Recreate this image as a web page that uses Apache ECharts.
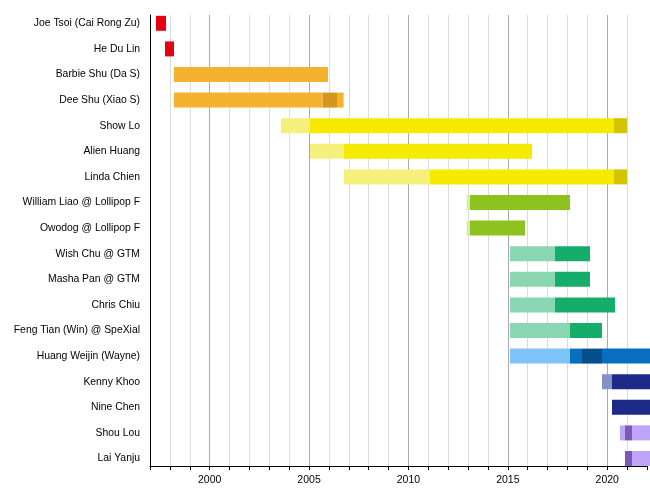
<!DOCTYPE html>
<html>
<head>
<meta charset="UTF-8">
<title>Timeline</title>
<script src="https://cdn.jsdelivr.net/npm/echarts@6/dist/echarts.min.js"></script>
</head>
<body style="margin:0;background:#fff;">
<div id="main" style="width:650px;height:500px;"></div>
<script type="text/javascript">
// members, top to bottom
var members = [
  'Joe Tsoi (Cai Rong Zu)', 'He Du Lin', 'Barbie Shu (Da S)', 'Dee Shu (Xiao S)',
  'Show Lo', 'Alien Huang', 'Linda Chien', 'William Liao @ Lollipop F',
  'Owodog @ Lollipop F', 'Wish Chu @ GTM', 'Masha Pan @ GTM', 'Chris Chiu',
  'Feng Tian (Win) @ SpeXial', 'Huang Weijin (Wayne)', 'Kenny Khoo', 'Nine Chen',
  'Shou Lou', 'Lai Yanju'
];

// [member index, start year, end year, role]
var segments = [
  [0, 1997.3, 1997.8, 'red'],
  [1, 1997.75, 1998.2, 'red'],
  [2, 1998.2, 2005.9, 'orange'],
  [3, 1998.2, 2005.63, 'orange'],
  [3, 2005.63, 2006.35, 'darkorange'],
  [3, 2006.35, 2006.68, 'orange'],
  [4, 2003.55, 2005.0, 'lightyellow'],
  [4, 2005.0, 2020.2, 'yellow'],
  [4, 2020.2, 2020.85, 'olive'],
  [5, 2005.0, 2006.7, 'lightyellow'],
  [5, 2006.7, 2016.1, 'yellow'],
  [6, 2006.7, 2011.0, 'lightyellow'],
  [6, 2011.0, 2020.2, 'yellow'],
  [6, 2020.2, 2020.85, 'olive'],
  [7, 2012.83, 2013.0, 'lightgreen'],
  [7, 2013.0, 2018.0, 'green'],
  [8, 2012.83, 2013.0, 'lightgreen'],
  [8, 2013.0, 2015.75, 'green'],
  [9, 2015.0, 2017.25, 'lightteal'],
  [9, 2017.25, 2019.0, 'teal'],
  [10, 2015.0, 2017.25, 'lightteal'],
  [10, 2017.25, 2019.0, 'teal'],
  [11, 2015.0, 2017.25, 'lightteal'],
  [11, 2017.25, 2020.25, 'teal'],
  [12, 2015.0, 2018.0, 'lightteal'],
  [12, 2018.0, 2019.6, 'teal'],
  [13, 2015.0, 2018.0, 'lightblue'],
  [13, 2018.0, 2018.6, 'blue'],
  [13, 2018.6, 2019.6, 'darkblue'],
  [13, 2019.6, 2022.0, 'blue'],
  [14, 2019.6, 2020.1, 'greyblue'],
  [14, 2020.1, 2022.0, 'navy'],
  [15, 2020.1, 2022.0, 'navy'],
  [16, 2020.5, 2020.75, 'lightpurple'],
  [16, 2020.75, 2021.1, 'darkpurple'],
  [16, 2021.1, 2022.0, 'lightpurple'],
  [17, 2020.75, 2021.1, 'darkpurple'],
  [17, 2021.1, 2022.0, 'lightpurple']
];

var yearMin = 1997;
var yearMax = 2022;

var roleColors = {
  red: '#e60012',
  orange: '#f5b22e',
  darkorange: '#d4961f',
  lightyellow: '#f5f07c',
  yellow: '#f5ea00',
  olive: '#d2c400',
  lightgreen: '#d6ebae',
  green: '#8ec31f',
  lightteal: '#8ad5b2',
  teal: '#14ae6a',
  lightblue: '#7dc4fa',
  blue: '#0a6ebe',
  darkblue: '#05508c',
  greyblue: '#8791c8',
  navy: '#1e2a87',
  lightpurple: '#bea5fa',
  darkpurple: '#7a5ab4'
};

var myChart = echarts.init(document.getElementById('main'));

function renderItem(params, api) {
  var seg = segments[params.dataIndex];
  var start = api.coord([api.value(1), api.value(0)]);
  var end = api.coord([api.value(2), api.value(0)]);
  var h = 15;
  return {
    type: 'rect',
    shape: { x: start[0], y: start[1] - h / 2, width: end[0] - start[0], height: h },
    style: { fill: roleColors[seg[3]] }
  };
}

var minor = '#dcdcdc', major = '#aaaaaa';

var option = {
  animation: false,
  textStyle: { fontFamily: 'Liberation Sans, Arial, sans-serif' },
  grid: [
    // frame with the year scale
    { left: 150, right: 0, top: 15, bottom: 34 },
    // bars
    { left: 150, right: 0, top: 10.5, bottom: 28.7 }
  ],
  xAxis: [
    {
      gridIndex: 0, type: 'value', min: yearMin, max: yearMax, interval: 1,
      axisLine: { lineStyle: { color: '#000', width: 1 } },
      axisTick: { show: true, length: 4, lineStyle: { color: '#000' } },
      axisLabel: {
        color: '#000', fontSize: 10.5, margin: 9,
        formatter: function (v) { return v % 5 === 0 ? String(v) : ''; }
      },
      splitLine: {
        show: true, showMaxLine: false,
        lineStyle: { color: [minor, minor, minor, major, minor], width: 1 }
      }
    },
    {
      gridIndex: 1, type: 'value', min: yearMin, max: yearMax, show: false
    }
  ],
  yAxis: [
    {
      gridIndex: 0, type: 'value', min: 0, max: 1,
      axisLine: { show: true, lineStyle: { color: '#000', width: 1 } },
      axisTick: { show: false }, axisLabel: { show: false }, splitLine: { show: false }
    },
    {
      gridIndex: 1, type: 'category', data: members, inverse: true,
      axisLine: { show: false }, axisTick: { show: false }, splitLine: { show: false },
      axisLabel: { color: '#000', fontSize: 10.4, margin: 10 }
    }
  ],
  series: [
    {
      type: 'custom',
      xAxisIndex: 1,
      yAxisIndex: 1,
      renderItem: renderItem,
      encode: { x: [1, 2], y: 0 },
      data: segments.map(function (s) { return [s[0], s[1], s[2]]; })
    }
  ]
};

myChart.setOption(option);
</script>
</body>
</html>
